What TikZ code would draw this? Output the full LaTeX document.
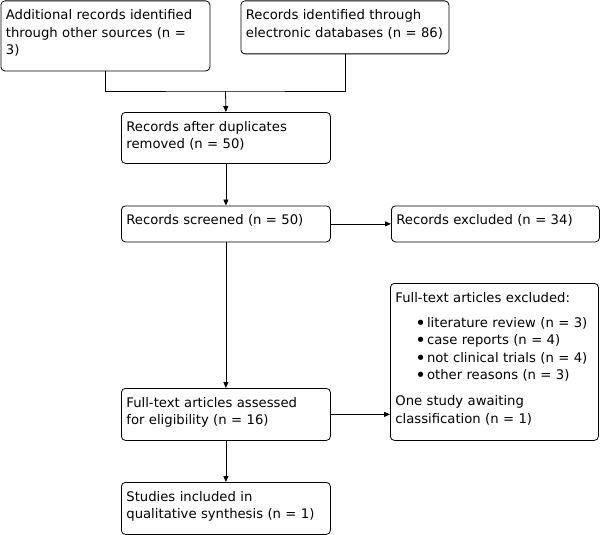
\documentclass[tikz,border=0pt]{standalone}
\usepackage{fontspec}
\setmainfont{DejaVu Sans}
\usetikzlibrary{arrows.meta}

\newcommand{\reasonitem}{\hspace*{20pt}\raisebox{-2pt}{\fontsize{18}{18}\selectfont\textbullet}\hspace{1pt}}

\begin{document}
\begin{tikzpicture}[
    x=1pt,
    y=-1pt,
    every node/.style={align=left},
    stagebox/.style={
      draw=black,
      rounded corners=4pt,
      anchor=north west,
      line width=0.8pt,
      inner xsep=5pt,
      inner ysep=6pt,
      text height=13pt,
      font=\fontsize{13.2}{17.5}\selectfont
    },
    flow/.style={-{Triangle[length=6pt,width=5pt]}, line width=0.8pt},
    link/.style={line width=0.8pt}
  ]
    \useasboundingbox (0,0) rectangle (602,535);

    % Identification
    \node[stagebox, text width=199pt, text depth=45pt] (other) at (0.5,0.5) {Additional records identified\\through other sources (n =\\3)};
    \node[stagebox, text width=198pt, text depth=28pt] (databases) at (240.5,0.5) {Records identified through\\electronic databases (n = 86)};
    \coordinate (merge) at (225.5,91);

    % Screening
    \node[stagebox, text width=199pt, text depth=26pt] (dupes) at (121,112) {Records after duplicates\\removed (n = 50)};
    \node[stagebox, text width=199pt, text depth=11pt] (screened) at (121,205.5) {Records screened (n = 50)};
    \node[stagebox, text width=198pt, text depth=11pt] (excluded) at (391,205.5) {Records excluded (n = 34)};

    % Eligibility and inclusion
    \node[stagebox, text width=199pt, text depth=27pt] (fulltext) at (121,388) {Full-text articles assessed\\for eligibility (n = 16)};
    \node[stagebox, text width=198pt, text depth=132pt] (reasons) at (390,283) {Full-text articles excluded:\\[7.5pt]
      \reasonitem literature review (n = 3)\\
      \reasonitem case reports (n = 4)\\
      \reasonitem not clinical trials (n = 4)\\
      \reasonitem other reasons (n = 3)\\[8.5pt]
      One study awaiting\\classification (n = 1)};
    \node[stagebox, text width=199pt, text depth=27pt] (included) at (121,482) {Studies included in\\qualitative synthesis (n = 1)};

    % Connectors
    \draw[link] (other.south) |- (merge) -| (databases.south);
    \draw[flow] (merge) -- (dupes.north);
    \draw[flow] (dupes.south) -- (screened.north);
    \draw[flow] (screened.east) -- (excluded.west);
    \draw[flow] (screened.south) -- (fulltext.north);
    \draw[flow] (fulltext.east) -- (fulltext.east -| reasons.west);
    \draw[flow] (fulltext.south) -- (included.north);
  \end{tikzpicture}
\end{document}
